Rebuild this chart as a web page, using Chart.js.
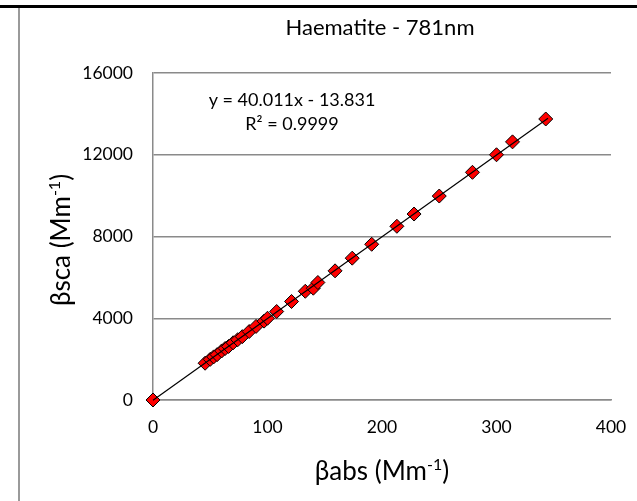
<!DOCTYPE html>
<html><head><meta charset="utf-8">
<script src="https://cdn.jsdelivr.net/npm/chart.js@4.4.0/dist/chart.umd.min.js"></script>
<style>html,body{margin:0;padding:0;background:#fff;overflow:hidden}canvas{display:block}</style>
</head><body>
<canvas id="c" width="637" height="501"></canvas>
<script>
// ---- data ----
const absValues = [0, 45.5, 50, 53, 56, 60, 63, 66, 70, 74, 78, 84, 90, 97, 100, 108, 121, 133, 140, 144, 159, 174, 191, 213, 228, 250, 279, 300, 314, 343];
const scaValues = [0, 1800, 1990, 2110, 2220, 2400, 2520, 2620, 2800, 2950, 3100, 3350, 3600, 3860, 4000, 4330, 4820, 5320, 5470, 5750, 6320, 6940, 7620, 8500, 9100, 9980, 11140, 12000, 12630, 13750];
const xTickValues = [0, 100, 200, 300, 400];
const yTickValues = [0, 4000, 8000, 12000, 16000];
const trendSlope = 40.011;
const trendIntercept = -13.831;
const trendXRange = [0, 345];
const chartTitle = 'Haematite - 781nm';
const eqLine1 = 'y = 40.011x - 13.831';
const eqLine2 = 'R\u00B2 = 0.9999';
const xTitleParts = ['\u03B2abs (Mm', '-1', ')'];
const yTitleParts = ['\u03B2sca (Mm', '-1', ')'];

const FONT = 'Lato, Carlito, Calibri, sans-serif';

const points = absValues.map((x, i) => ({x: x, y: scaValues[i]}));
const trendPoints = trendXRange.map(x => ({x: x, y: trendSlope * x + trendIntercept}));

function drawSup(ctx, parts, size) {
  const f1 = size + 'px ' + FONT, f2 = Math.round(size * 0.62) + 'px ' + FONT;
  ctx.font = f1; const w1 = ctx.measureText(parts[0]).width;
  ctx.font = f2; const w2 = ctx.measureText(parts[1]).width;
  ctx.font = f1; const w3 = ctx.measureText(parts[2]).width;
  const total = w1 + w2 + w3;
  let x = -total / 2;
  ctx.textAlign = 'left'; ctx.textBaseline = 'alphabetic';
  ctx.font = f1; ctx.fillText(parts[0], x, 0); x += w1;
  ctx.font = f2; ctx.fillText(parts[1], x, -size * 0.38); x += w2;
  ctx.font = f1; ctx.fillText(parts[2], x, 0);
}

const decor = {
  id: 'decor',
  beforeDraw(chart) {
    const ctx = chart.ctx;
    ctx.save();
    ctx.fillStyle = '#fff';
    ctx.fillRect(0, 0, chart.width, chart.height);
    ctx.restore();
  },
  afterDraw(chart) {
    const ctx = chart.ctx;
    ctx.save();
    ctx.fillStyle = '#000';
    ctx.fillRect(0, 5, 637, 3);
    ctx.fillStyle = '#9a9a9a';
    ctx.fillRect(18, 8, 2, 493);
    ctx.fillStyle = '#000';
    ctx.font = '22px ' + FONT;
    ctx.textAlign = 'center'; ctx.textBaseline = 'alphabetic';
    ctx.fillText(chartTitle, 380, 35);
    ctx.font = '18px ' + FONT;
    ctx.fillText(eqLine1, 292, 106);
    ctx.fillText(eqLine2, 292, 130);
    ctx.save(); ctx.translate(382, 480); drawSup(ctx, xTitleParts, 26); ctx.restore();
    ctx.save(); ctx.translate(70, 240); ctx.rotate(-Math.PI / 2); drawSup(ctx, yTitleParts, 26); ctx.restore();
    ctx.restore();
  }
};

new Chart(document.getElementById('c'), {
  type: 'scatter',
  data: {
    datasets: [
      {
        type: 'line', data: trendPoints, borderColor: '#000', borderWidth: 1.2,
        pointRadius: 0, fill: false, order: 0, clip: false, tension: 0
      },
      {
        data: points, pointStyle: 'rectRot', pointRadius: 7, pointHoverRadius: 7,
        backgroundColor: '#ff0000', borderColor: '#000', pointBorderWidth: 1, borderWidth: 1,
        order: 1, clip: false
      }
    ]
  },
  options: {
    responsive: false, animation: false, devicePixelRatio: 1,
    layout: {padding: {left: 0, top: 73, right: 26, bottom: 0}},
    plugins: {legend: {display: false}, tooltip: {enabled: false}, title: {display: false}},
    events: [],
    scales: {
      x: {
        type: 'linear', min: 0, max: 400,
        afterBuildTicks: s => { s.ticks = xTickValues.map(v => ({value: v})); },
        afterFit: s => { s.height = 101; s.paddingLeft = 0; s.paddingRight = 0; },
        ticks: {font: {family: FONT, size: 17.5}, color: '#000', padding: 17, callback: v => String(v)},
        grid: {display: false, drawTicks: false},
        border: {display: true, color: '#8a8a8a', width: 1.5}
      },
      y: {
        type: 'linear', min: 0, max: 16000,
        afterBuildTicks: s => { s.ticks = yTickValues.map(v => ({value: v})); },
        afterFit: s => { s.width = 153; s.paddingTop = 0; s.paddingBottom = 0; },
        ticks: {font: {family: FONT, size: 17.5}, color: '#000', padding: 20, callback: v => String(v)},
        grid: {display: true, drawTicks: false, color: '#8a8a8a', lineWidth: 1.5},
        border: {display: true, color: '#8a8a8a', width: 1.5}
      }
    }
  },
  plugins: [decor]
});
</script>
</body></html>
